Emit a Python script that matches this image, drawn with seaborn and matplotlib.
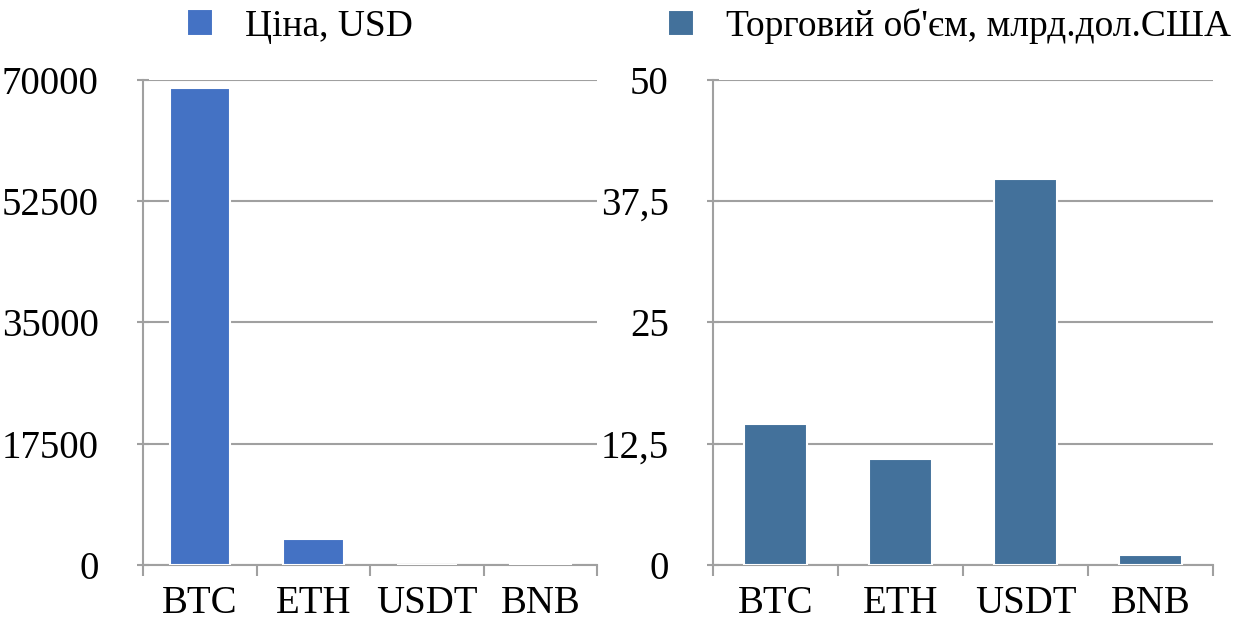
import matplotlib
matplotlib.use("Agg")
import matplotlib.pyplot as plt
import seaborn as sns
import pandas as pd
from matplotlib.ticker import FixedLocator, FuncFormatter

coins = ["BTC", "ETH", "USDT", "BNB"]
price_usd = [68800, 3750, 1, 150]
volume_bn = [14.5, 10.9, 39.8, 1.0]
price_label = "Ціна, USD"
volume_label = "Торговий об'єм, млрд.дол.США"
price_ticks = [0, 17500, 35000, 52500, 70000]
volume_ticks = [0, 12.5, 25, 37.5, 50]

sns.set_theme(style="white")
plt.rcParams["font.family"] = ["Liberation Serif", "DejaVu Serif"]
plt.rcParams["text.color"] = "black"

fig = plt.figure(figsize=(12.34, 6.28), dpi=100)
ax1 = fig.add_axes([0.116, 0.100, 0.368, 0.773])
ax2 = fig.add_axes([0.578, 0.100, 0.405, 0.773])

df1 = pd.DataFrame({"coin": coins, "value": price_usd, "series": price_label})
df2 = pd.DataFrame({"coin": coins, "value": volume_bn, "series": volume_label})

grid_c = "#A0A0A0"
fs = 28

def style(ax, df, color, ticks, fmt, width, leg_x):
    sns.barplot(data=df, x="coin", y="value", hue="series", palette=[color],
                saturation=1, width=width, edgecolor="white", linewidth=1.5,
                ax=ax, zorder=3)
    ax.set_xlim(-0.5, 3.5)
    ax.set_ylim(ticks[0], ticks[-1])
    ax.yaxis.set_major_locator(FixedLocator(ticks))
    ax.yaxis.set_major_formatter(FuncFormatter(fmt))
    ax.grid(axis="y", color=grid_c, linewidth=1.5, zorder=0)
    ax.set_axisbelow(True)
    for s in ["top", "right"]:
        ax.spines[s].set_visible(False)
    for s in ["left", "bottom"]:
        ax.spines[s].set_color(grid_c)
        ax.spines[s].set_linewidth(1.5)
    ax.set_xlabel("")
    ax.set_ylabel("")
    ax.set_xticks(range(len(coins)))
    ax.set_xticklabels(coins)
    ax.set_xticks([-0.5, 0.5, 1.5, 2.5, 3.5], minor=True)
    ax.tick_params(axis="x", which="major", length=0, pad=14, labelsize=fs, labelcolor="black")
    ax.tick_params(axis="x", which="minor", length=8, width=1.5, color=grid_c, direction="out")
    ax.tick_params(axis="y", length=8, width=1.5, color=grid_c, direction="inout",
                   pad=28, labelsize=fs, labelcolor="black")
    ax.tick_params(axis="x", bottom=True, which="both")
    ax.tick_params(axis="y", left=True)
    ax.get_legend().remove()
    handles, labels = ax.get_legend_handles_labels()
    fig.legend(handles, labels, loc="center left", bbox_to_anchor=(leg_x, 0.958),
               bbox_transform=fig.transFigure, frameon=False, labelcolor="black",
               fontsize=27, handlelength=0.7, handleheight=0.7, handletextpad=0.85,
               borderaxespad=0, borderpad=0)

style(ax1, df1, "#4472C4", price_ticks, lambda v, p: f"{int(v)}", 0.53, 0.1515)
style(ax2, df2, "#43719B", volume_ticks,
      lambda v, p: (f"{v:g}").replace(".", ","), 0.5, 0.541)

fig.savefig("out.png", dpi=100)
